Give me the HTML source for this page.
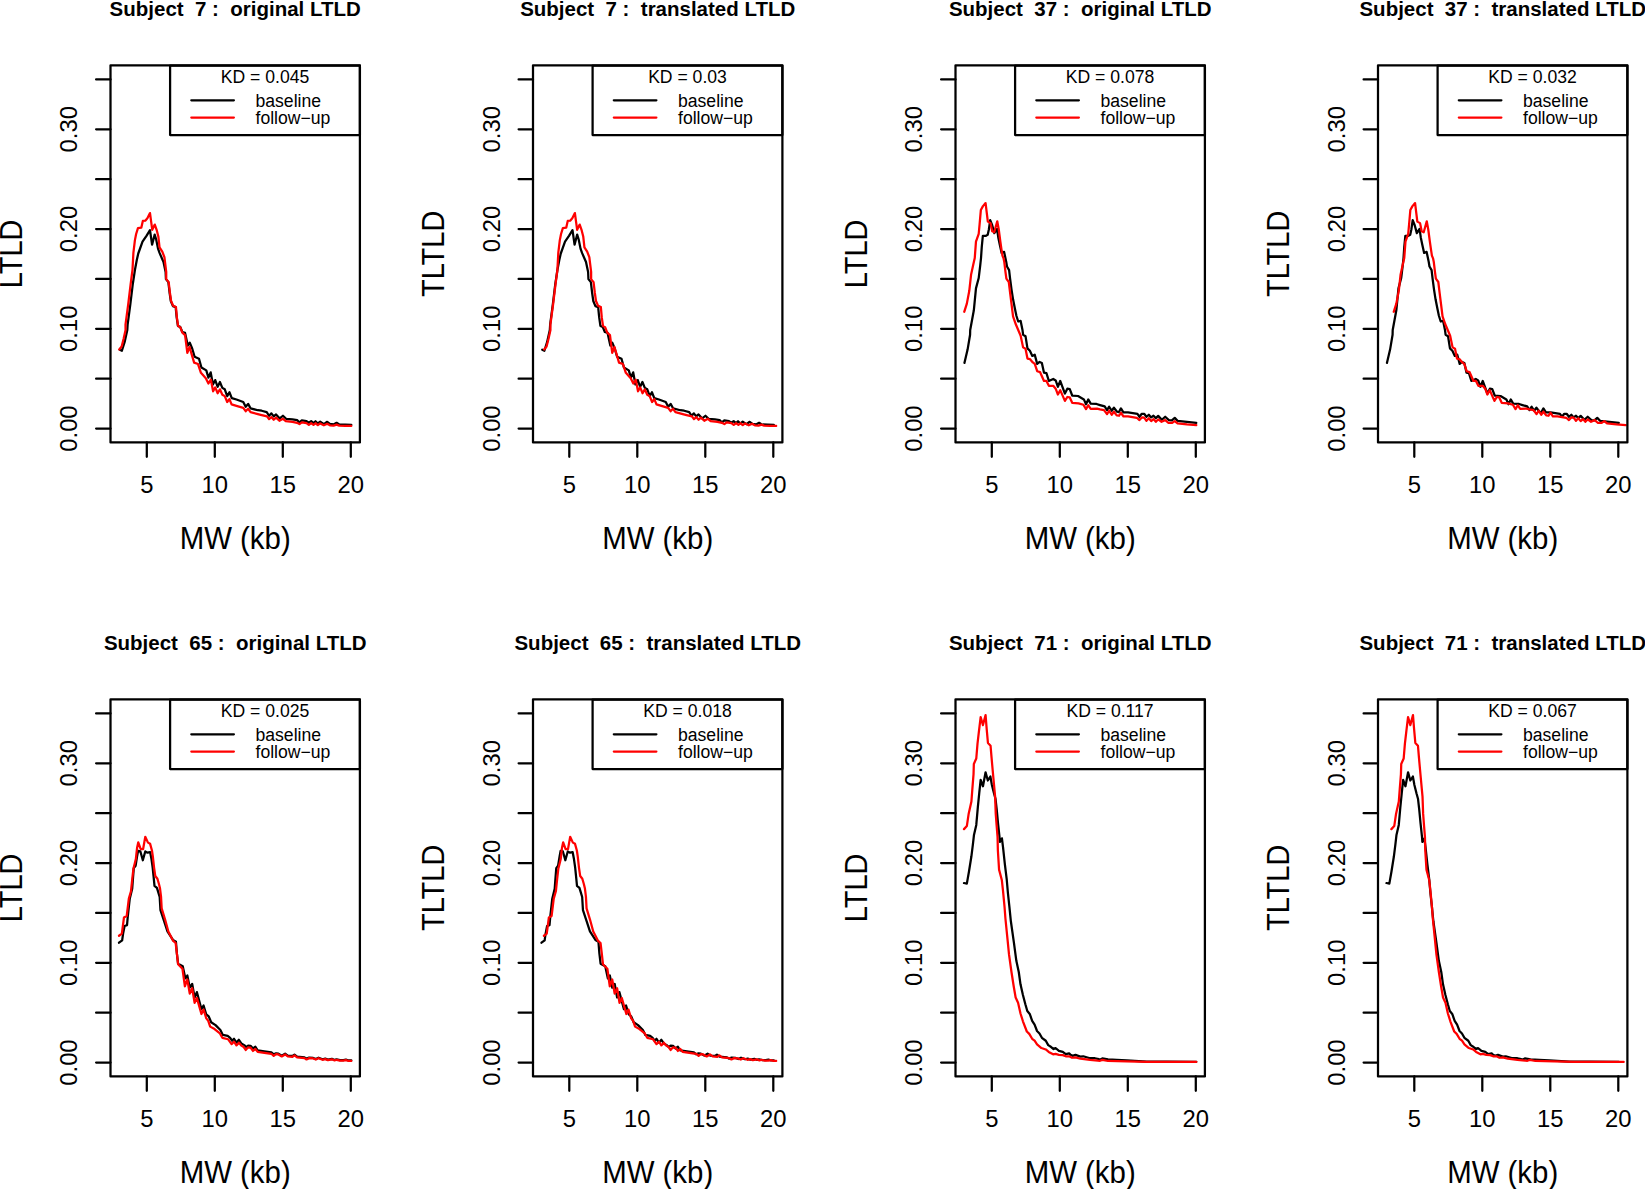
<!DOCTYPE html>
<html><head><meta charset="utf-8"><title>LTLD</title>
<style>html,body{margin:0;padding:0;background:#fff;width:1645px;height:1189px;overflow:hidden}svg{display:block}text{font-family:"Liberation Sans",sans-serif;fill:#000}.t{font-weight:bold;font-size:20.5px}.a{font-size:23.8px}.l{font-size:29.4px}.y{font-size:29px}.g{font-size:17.6px}.k{stroke:#000;stroke-width:2.25;fill:none;stroke-linecap:round;stroke-linejoin:round}.r{stroke:#f00;stroke-width:2.25;fill:none;stroke-linecap:round;stroke-linejoin:round}</style></head><body>
<svg width="1645" height="1189" viewBox="0 0 1645 1189">
<rect width="1645" height="1189" fill="#fff"/>
<g transform="translate(0,0)">
<path class="k" d="M119.73 349.74 L121.87 350.72 L124.59 342.16 L127.31 330 L127.63 324.71 L130.36 304.04 L132.8 283.98 L134.92 270 L136.75 260.18 L138.27 253.5 L142.52 241.64 L146.47 235.87 L150 230.09 L152.07 244.68 L154.68 234.65 L156.2 239.51 L158.02 248.63 L159.54 252.89 L163.5 262.01 L165.62 271.98 L165.93 279.12 L168.36 282.16 L169.57 292.49 L170.79 301 L172.92 306.17 L175.65 307.08 L176.69 317.42 L177.9 325.93 L180.21 326.84 L182.34 332.01 L185.08 332.92 L187.81 345.56 L189.76 342.64 L192.19 348.48 L194.62 356.75 L199 358.69 L201.43 367.45 L206.29 370.36 L208.43 377.66 L210.67 372.31 L212.91 384.47 L215.24 380.09 L217.67 386.9 L219.91 382.04 L222.34 387.87 L224.77 389.33 L227.2 396.14 L229.44 392.25 L231.78 398.09 L236.44 399.54 L243.25 401.98 L245.68 406.84 L248.12 403.92 L250.55 408.3 L257.84 410.24 L261.69 410.74 L266.7 412.08 L269.04 415.76 L271.38 413.42 L273.72 416.43 L276.06 414.42 L279.74 418.43 L282.95 415.76 L286.09 418.77 L292.45 419.44 L297.13 420.11 L299.47 422.45 L301.81 420.44 L306.49 421.11 L308.83 422.78 L311.17 421.11 L313.51 423.12 L315.52 421.24 L317.86 423.45 L320.2 421.64 L323.88 424.12 L327.22 421.78 L329.89 423.78 L333.57 424.45 L336.58 422.78 L339.26 424.45 L345.27 424.59 L351.29 424.92"/>
<path class="r" d="M119.24 349.45 L121.67 346.53 L123.62 338.75 L125.56 330 L125.5 324.71 L128.24 304.04 L130.67 283.98 L132.49 270 L133.4 252.89 L134.92 240.12 L136.14 234.04 L137.96 228.09 L141.31 227.66 L142.83 220.97 L145.26 220.67 L147.39 218.24 L150 213.07 L152.25 229.79 L154.8 224.62 L156.81 230.4 L158.33 236.47 L159.54 247.42 L162.28 251.67 L164.41 257.14 L166.23 271.98 L166.23 279.12 L168.66 282.16 L169.88 292.49 L171.09 301 L173.22 305.87 L175.96 307.08 L176.87 317.42 L178.09 325.93 L180.21 327.14 L182.34 332.61 L185.08 335.05 L187.33 352.86 L189.56 347.02 L191.7 354.32 L194.13 362.58 L198.02 364.04 L200.94 372.8 L205.81 378.15 L208.43 383.5 L210.86 379.6 L213.1 391.28 L215.24 387.39 L217.67 393.22 L219.91 389.33 L222.34 394.68 L224.77 396.14 L227.2 401.98 L229.44 399.06 L231.58 404.41 L236.44 405.87 L243.25 407.81 L245.68 411.22 L248.12 408.78 L250.55 412.19 L257.84 414.13 L261.69 415.09 L267.04 416.43 L269.04 419.1 L271.38 417.1 L273.72 419.77 L276.06 417.63 L279.41 420.78 L282.95 418.77 L285.76 421.11 L292.45 421.78 L297.13 422.78 L299.47 424.12 L301.81 422.45 L306.49 423.12 L308.83 424.92 L311.17 423.12 L313.51 424.92 L315.52 423.25 L317.86 425.12 L320.2 423.45 L323.88 425.32 L327.22 423.78 L329.89 425.26 L333.57 425.66 L336.58 424.59 L339.26 425.66 L345.27 425.79 L351.29 425.92"/>
<rect class="k" x="110.5" y="65.25" width="249.4" height="377.2"/>
<path class="k" d="M146.8 442.45v14.4M214.8 442.45v14.4M282.8 442.45v14.4M350.8 442.45v14.4M110.5 428.55h-14.4M110.5 378.67h-14.4M110.5 328.79h-14.4M110.5 278.91h-14.4M110.5 229.03h-14.4M110.5 179.15h-14.4M110.5 129.27h-14.4M110.5 79.39h-14.4"/>
<text class="a" text-anchor="middle" x="146.8" y="493.15">5</text>
<text class="a" text-anchor="middle" x="214.8" y="493.15">10</text>
<text class="a" text-anchor="middle" x="282.8" y="493.15">15</text>
<text class="a" text-anchor="middle" x="350.8" y="493.15">20</text>
<text class="a" text-anchor="middle" transform="translate(77.1,428.55) rotate(-90)">0.00</text>
<text class="a" text-anchor="middle" transform="translate(77.1,328.79) rotate(-90)">0.10</text>
<text class="a" text-anchor="middle" transform="translate(77.1,229.03) rotate(-90)">0.20</text>
<text class="a" text-anchor="middle" transform="translate(77.1,129.27) rotate(-90)">0.30</text>
<text class="l" text-anchor="middle" transform="translate(235.2,548.65) scale(1,1.05)">MW (kb)</text>
<text class="y" text-anchor="middle" transform="translate(21.6,253.85) rotate(-90) scale(1,1.08)">LTLD</text>
<text class="t" text-anchor="middle" transform="translate(235.2,15.85) scale(1,1.03)" xml:space="preserve">Subject  7 :  original LTLD</text>
<rect class="k" x="170.1" y="65.55" width="189.8" height="69.5" fill="#fff"/>
<text class="g" text-anchor="middle" x="265" y="83.05">KD = 0.045</text>
<path class="k" d="M191.3 100.3h42.6"/>
<path class="r" d="M191.3 117.5h42.6"/>
<text class="g" x="255.5" y="106.65">baseline</text>
<text class="g" x="255.5" y="124.05">follow−up</text>
</g>
<g transform="translate(422.5,0)">
<path class="k" d="M119.73 349.74 L121.87 350.72 L124.59 342.16 L127.31 330 L127.63 324.71 L130.36 304.04 L132.8 283.98 L134.92 270 L136.75 260.18 L138.27 253.5 L142.52 241.64 L146.47 235.87 L150 230.09 L152.07 244.68 L154.68 234.65 L156.2 239.51 L158.02 248.63 L159.54 252.89 L163.5 262.01 L165.62 271.98 L165.93 279.12 L168.36 282.16 L169.57 292.49 L170.79 301 L172.92 306.17 L175.65 307.08 L176.69 317.42 L177.9 325.93 L180.21 326.84 L182.34 332.01 L185.08 332.92 L187.81 345.56 L189.76 342.64 L192.19 348.48 L194.62 356.75 L199 358.69 L201.43 367.45 L206.29 370.36 L208.43 377.66 L210.67 372.31 L212.91 384.47 L215.24 380.09 L217.67 386.9 L219.91 382.04 L222.34 387.87 L224.77 389.33 L227.2 396.14 L229.44 392.25 L231.78 398.09 L236.44 399.54 L243.25 401.98 L245.68 406.84 L248.12 403.92 L250.55 408.3 L257.84 410.24 L261.69 410.74 L266.7 412.08 L269.04 415.76 L271.38 413.42 L273.72 416.43 L276.06 414.42 L279.74 418.43 L282.95 415.76 L286.09 418.77 L292.45 419.44 L297.13 420.11 L299.47 422.45 L301.81 420.44 L306.49 421.11 L308.83 422.78 L311.17 421.11 L313.51 423.12 L315.52 421.24 L317.86 423.45 L320.2 421.64 L323.88 424.12 L327.22 421.78 L329.89 423.78 L333.57 424.45 L336.58 422.78 L339.26 424.45 L345.27 424.59 L351.29 424.92"/>
<path class="r" d="M121.64 349.45 L124.07 346.53 L126.02 338.75 L127.96 330 L127.9 324.71 L130.64 304.04 L133.07 283.98 L134.89 270 L135.8 252.89 L137.32 240.12 L138.54 234.04 L140.36 228.09 L143.71 227.66 L145.23 220.97 L147.66 220.67 L149.79 218.24 L152.4 213.07 L154.65 229.79 L157.2 224.62 L159.21 230.4 L160.73 236.47 L161.94 247.42 L164.68 251.67 L166.81 257.14 L168.63 271.98 L168.63 279.12 L171.06 282.16 L172.28 292.49 L173.49 301 L175.62 305.87 L178.36 307.08 L179.27 317.42 L180.49 325.93 L182.61 327.14 L184.74 332.61 L187.48 335.05 L189.73 352.86 L191.96 347.02 L194.1 354.32 L196.53 362.58 L200.42 364.04 L203.34 372.8 L208.21 378.15 L210.83 383.5 L213.26 379.6 L215.5 391.28 L217.64 387.39 L220.07 393.22 L222.31 389.33 L224.74 394.68 L227.17 396.14 L229.6 401.98 L231.84 399.06 L233.98 404.41 L238.84 405.87 L245.65 407.81 L248.08 411.22 L250.52 408.78 L252.95 412.19 L260.24 414.13 L264.09 415.09 L269.44 416.43 L271.44 419.1 L273.78 417.1 L276.12 419.77 L278.46 417.63 L281.81 420.78 L285.35 418.77 L288.16 421.11 L294.85 421.78 L299.53 422.78 L301.87 424.12 L304.21 422.45 L308.89 423.12 L311.23 424.92 L313.57 423.12 L315.91 424.92 L317.92 423.25 L320.26 425.12 L322.6 423.45 L326.28 425.32 L329.62 423.78 L332.29 425.26 L335.97 425.66 L338.98 424.59 L341.66 425.66 L347.67 425.79 L353.69 425.92"/>
<rect class="k" x="110.5" y="65.25" width="249.4" height="377.2"/>
<path class="k" d="M146.8 442.45v14.4M214.8 442.45v14.4M282.8 442.45v14.4M350.8 442.45v14.4M110.5 428.55h-14.4M110.5 378.67h-14.4M110.5 328.79h-14.4M110.5 278.91h-14.4M110.5 229.03h-14.4M110.5 179.15h-14.4M110.5 129.27h-14.4M110.5 79.39h-14.4"/>
<text class="a" text-anchor="middle" x="146.8" y="493.15">5</text>
<text class="a" text-anchor="middle" x="214.8" y="493.15">10</text>
<text class="a" text-anchor="middle" x="282.8" y="493.15">15</text>
<text class="a" text-anchor="middle" x="350.8" y="493.15">20</text>
<text class="a" text-anchor="middle" transform="translate(77.1,428.55) rotate(-90)">0.00</text>
<text class="a" text-anchor="middle" transform="translate(77.1,328.79) rotate(-90)">0.10</text>
<text class="a" text-anchor="middle" transform="translate(77.1,229.03) rotate(-90)">0.20</text>
<text class="a" text-anchor="middle" transform="translate(77.1,129.27) rotate(-90)">0.30</text>
<text class="l" text-anchor="middle" transform="translate(235.2,548.65) scale(1,1.05)">MW (kb)</text>
<text class="y" text-anchor="middle" transform="translate(21.6,253.85) rotate(-90) scale(1,1.08)">TLTLD</text>
<text class="t" text-anchor="middle" transform="translate(235.2,15.85) scale(1,1.03)" xml:space="preserve">Subject  7 :  translated LTLD</text>
<rect class="k" x="170.1" y="65.55" width="189.8" height="69.5" fill="#fff"/>
<text class="g" text-anchor="middle" x="265" y="83.05">KD = 0.03</text>
<path class="k" d="M191.3 100.3h42.6"/>
<path class="r" d="M191.3 117.5h42.6"/>
<text class="g" x="255.5" y="106.65">baseline</text>
<text class="g" x="255.5" y="124.05">follow−up</text>
</g>
<g transform="translate(845,0)">
<path class="k" d="M119.43 362.93 L122.64 349.32 L125.08 334.73 L125.2 329.98 L128.84 310.28 L130.97 288.4 L133.71 278.06 L135.23 265.29 L136.02 258 L136.75 247.14 L137.84 235.9 L140.58 235.9 L142.71 234.86 L143.86 229.51 L145.2 220.09 L147.2 225.26 L149.33 233.16 L152.07 228.91 L153.28 237.42 L154.8 244.71 L156.63 252.92 L159.12 251.88 L161.25 261.98 L161.98 266.51 L164.1 270.16 L165.02 278.06 L166.53 289.61 L168.05 299.34 L169.88 308.46 L171.4 315.75 L173.22 321.53 L175.65 320.92 L177.48 329.98 L178.09 334.73 L180.52 336.19 L182.46 348.34 L184.89 350.78 L187.33 355.93 L189.76 354.67 L192.19 363.91 L194.62 361.96 L196.86 362.93 L199 372.66 L201.43 373.15 L203.86 380.93 L208.24 378.98 L210.67 380.44 L212.91 386.76 L215.24 380.93 L219.91 393.57 L222.34 388.71 L224.77 389.19 L227.2 395.52 L233.04 396 L238.88 399.41 L241.02 404.27 L243.25 399.41 L245.68 403.59 L251.52 403.98 L255 405.06 L259.68 406.4 L262.02 410.08 L264.16 406.73 L266.7 410.74 L268.91 407.74 L272.05 411.75 L273.92 412.08 L275.93 408.4 L278.4 412.42 L283.09 412.42 L292.45 413.89 L294.45 416.76 L296.79 413.75 L299.13 413.75 L301.47 416.76 L303.81 414.76 L306.16 417.43 L308.5 415.76 L310.84 418.1 L313.18 415.89 L316.85 419.77 L320.2 416.76 L323.88 420.11 L326.88 420.44 L329.76 417.9 L332.57 420.78 L341.93 421.91 L351.29 422.98"/>
<path class="r" d="M119.24 311.8 L121.85 303.59 L124.29 290.83 L126.11 274.41 L128.24 264.69 L129.76 258 L130.97 241.67 L133.71 233.77 L134.62 224.04 L135.84 210.06 L137.96 206.11 L140.58 203.07 L142.83 221.61 L145.56 223.13 L147.2 231.34 L149.21 232.25 L152.25 221.31 L153.77 229.51 L155.29 241.06 L156.5 249.57 L157.42 255.65 L158.63 258.69 L159.24 261.65 L160.46 271.98 L161.37 278.67 L163.8 282.01 L165.02 292.04 L166.53 304.2 L168.05 316.36 L170.79 324.26 L173.22 329.98 L175.65 335.7 L178.09 347.37 L180.52 348.83 L182.46 358.56 L184.89 359.04 L187.81 362.45 L189.76 363.91 L192.19 371.2 L195.11 372.17 L199 380.93 L201.43 380.93 L203.86 385.79 L208.24 385.79 L210.67 388.71 L212.91 394.54 L215.24 390.17 L219.91 400.87 L222.34 396.98 L224.77 397.46 L227.2 402.81 L233.53 403.3 L238.39 404.76 L241.02 409.13 L243.25 405.24 L245.68 408.84 L252.01 408.65 L255 409.41 L259.01 410.08 L262.02 414.09 L264.16 410.74 L266.7 414.76 L268.91 411.75 L271.72 415.43 L274.06 415.76 L275.93 412.75 L278.4 416.43 L283.09 416.29 L291.78 417.77 L294.45 420.11 L296.79 417.43 L299.13 417.63 L301.47 420.78 L303.81 418.3 L306.16 421.11 L308.5 419.1 L310.84 421.78 L313.18 419.44 L316.52 421.78 L320.2 420.11 L323.21 422.78 L326.88 422.98 L329.76 421.11 L332.57 423.45 L341.93 424.45 L351.29 425.12"/>
<rect class="k" x="110.5" y="65.25" width="249.4" height="377.2"/>
<path class="k" d="M146.8 442.45v14.4M214.8 442.45v14.4M282.8 442.45v14.4M350.8 442.45v14.4M110.5 428.55h-14.4M110.5 378.67h-14.4M110.5 328.79h-14.4M110.5 278.91h-14.4M110.5 229.03h-14.4M110.5 179.15h-14.4M110.5 129.27h-14.4M110.5 79.39h-14.4"/>
<text class="a" text-anchor="middle" x="146.8" y="493.15">5</text>
<text class="a" text-anchor="middle" x="214.8" y="493.15">10</text>
<text class="a" text-anchor="middle" x="282.8" y="493.15">15</text>
<text class="a" text-anchor="middle" x="350.8" y="493.15">20</text>
<text class="a" text-anchor="middle" transform="translate(77.1,428.55) rotate(-90)">0.00</text>
<text class="a" text-anchor="middle" transform="translate(77.1,328.79) rotate(-90)">0.10</text>
<text class="a" text-anchor="middle" transform="translate(77.1,229.03) rotate(-90)">0.20</text>
<text class="a" text-anchor="middle" transform="translate(77.1,129.27) rotate(-90)">0.30</text>
<text class="l" text-anchor="middle" transform="translate(235.2,548.65) scale(1,1.05)">MW (kb)</text>
<text class="y" text-anchor="middle" transform="translate(21.6,253.85) rotate(-90) scale(1,1.08)">LTLD</text>
<text class="t" text-anchor="middle" transform="translate(235.2,15.85) scale(1,1.03)" xml:space="preserve">Subject  37 :  original LTLD</text>
<rect class="k" x="170.1" y="65.55" width="189.8" height="69.5" fill="#fff"/>
<text class="g" text-anchor="middle" x="265" y="83.05">KD = 0.078</text>
<path class="k" d="M191.3 100.3h42.6"/>
<path class="r" d="M191.3 117.5h42.6"/>
<text class="g" x="255.5" y="106.65">baseline</text>
<text class="g" x="255.5" y="124.05">follow−up</text>
</g>
<g transform="translate(1267.5,0)">
<path class="k" d="M119.43 362.93 L122.64 349.32 L125.08 334.73 L125.2 329.98 L128.84 310.28 L130.97 288.4 L133.71 278.06 L135.23 265.29 L136.02 258 L136.75 247.14 L137.84 235.9 L140.58 235.9 L142.71 234.86 L143.86 229.51 L145.2 220.09 L147.2 225.26 L149.33 233.16 L152.07 228.91 L153.28 237.42 L154.8 244.71 L156.63 252.92 L159.12 251.88 L161.25 261.98 L161.98 266.51 L164.1 270.16 L165.02 278.06 L166.53 289.61 L168.05 299.34 L169.88 308.46 L171.4 315.75 L173.22 321.53 L175.65 320.92 L177.48 329.98 L178.09 334.73 L180.52 336.19 L182.46 348.34 L184.89 350.78 L187.33 355.93 L189.76 354.67 L192.19 363.91 L194.62 361.96 L196.86 362.93 L199 372.66 L201.43 373.15 L203.86 380.93 L208.24 378.98 L210.67 380.44 L212.91 386.76 L215.24 380.93 L219.91 393.57 L222.34 388.71 L224.77 389.19 L227.2 395.52 L233.04 396 L238.88 399.41 L241.02 404.27 L243.25 399.41 L245.68 403.59 L251.52 403.98 L255 405.06 L259.68 406.4 L262.02 410.08 L264.16 406.73 L266.7 410.74 L268.91 407.74 L272.05 411.75 L273.92 412.08 L275.93 408.4 L278.4 412.42 L283.09 412.42 L292.45 413.89 L294.45 416.76 L296.79 413.75 L299.13 413.75 L301.47 416.76 L303.81 414.76 L306.16 417.43 L308.5 415.76 L310.84 418.1 L313.18 415.89 L316.85 419.77 L320.2 416.76 L323.88 420.11 L326.88 420.44 L329.76 417.9 L332.57 420.78 L341.93 421.91 L351.29 422.98"/>
<path class="r" d="M126.24 311.8 L128.85 303.59 L131.29 290.83 L133.11 274.41 L135.24 264.69 L136.76 258 L137.97 241.67 L140.71 233.77 L141.62 224.04 L142.84 210.06 L144.96 206.11 L147.58 203.07 L149.83 221.61 L152.56 223.13 L154.2 231.34 L156.21 232.25 L159.25 221.31 L160.77 229.51 L162.29 241.06 L163.5 249.57 L164.42 255.65 L165.63 258.69 L166.24 261.65 L167.46 271.98 L168.37 278.67 L170.8 282.01 L172.02 292.04 L173.53 304.2 L175.05 316.36 L177.79 324.26 L180.22 329.98 L182.65 335.7 L185.09 347.37 L187.52 348.83 L189.46 358.56 L191.89 359.04 L194.81 362.45 L196.76 363.91 L199.19 371.2 L202.11 372.17 L206 380.93 L208.43 380.93 L210.86 385.79 L215.24 385.79 L217.67 388.71 L219.91 394.54 L222.24 390.17 L226.91 400.87 L229.34 396.98 L231.77 397.46 L234.2 402.81 L240.53 403.3 L245.39 404.76 L248.02 409.13 L250.25 405.24 L252.68 408.84 L259.01 408.65 L262 409.41 L266.01 410.08 L269.02 414.09 L271.16 410.74 L273.7 414.76 L275.91 411.75 L278.72 415.43 L281.06 415.76 L282.93 412.75 L285.4 416.43 L290.09 416.29 L298.78 417.77 L301.45 420.11 L303.79 417.43 L306.13 417.63 L308.47 420.78 L310.81 418.3 L313.16 421.11 L315.5 419.1 L317.84 421.78 L320.18 419.44 L323.52 421.78 L327.2 420.11 L330.21 422.78 L333.88 422.98 L336.76 421.11 L339.57 423.45 L348.93 424.45 L358.29 425.12"/>
<rect class="k" x="110.5" y="65.25" width="249.4" height="377.2"/>
<path class="k" d="M146.8 442.45v14.4M214.8 442.45v14.4M282.8 442.45v14.4M350.8 442.45v14.4M110.5 428.55h-14.4M110.5 378.67h-14.4M110.5 328.79h-14.4M110.5 278.91h-14.4M110.5 229.03h-14.4M110.5 179.15h-14.4M110.5 129.27h-14.4M110.5 79.39h-14.4"/>
<text class="a" text-anchor="middle" x="146.8" y="493.15">5</text>
<text class="a" text-anchor="middle" x="214.8" y="493.15">10</text>
<text class="a" text-anchor="middle" x="282.8" y="493.15">15</text>
<text class="a" text-anchor="middle" x="350.8" y="493.15">20</text>
<text class="a" text-anchor="middle" transform="translate(77.1,428.55) rotate(-90)">0.00</text>
<text class="a" text-anchor="middle" transform="translate(77.1,328.79) rotate(-90)">0.10</text>
<text class="a" text-anchor="middle" transform="translate(77.1,229.03) rotate(-90)">0.20</text>
<text class="a" text-anchor="middle" transform="translate(77.1,129.27) rotate(-90)">0.30</text>
<text class="l" text-anchor="middle" transform="translate(235.2,548.65) scale(1,1.05)">MW (kb)</text>
<text class="y" text-anchor="middle" transform="translate(21.6,253.85) rotate(-90) scale(1,1.08)">TLTLD</text>
<text class="t" text-anchor="middle" transform="translate(235.2,15.85) scale(1,1.03)" xml:space="preserve">Subject  37 :  translated LTLD</text>
<rect class="k" x="170.1" y="65.55" width="189.8" height="69.5" fill="#fff"/>
<text class="g" text-anchor="middle" x="265" y="83.05">KD = 0.032</text>
<path class="k" d="M191.3 100.3h42.6"/>
<path class="r" d="M191.3 117.5h42.6"/>
<text class="g" x="255.5" y="106.65">baseline</text>
<text class="g" x="255.5" y="124.05">follow−up</text>
</g>
<g transform="translate(0,634)">
<path class="k" d="M119 308.72 L122.16 306.29 L123.07 299.91 L124.59 292 L127.02 291.09 L127.75 282.88 L129.76 264.65 L132.19 254.83 L133.1 242.67 L133.77 234.16 L135.59 231.73 L137.05 222.61 L138.09 216.84 L140.4 217.44 L142.83 226.26 L145.26 217.44 L147.51 218.66 L150.12 218.05 L151.46 225.04 L152.67 233.55 L153.59 242.67 L154.5 251.79 L156.93 253.92 L158.15 257.87 L159.67 262.98 L160.46 276.2 L164.1 287.14 L167.45 297.47 L172.92 305.98 L175.96 307.81 L176.87 319.36 L178.09 329.69 L182.75 332.32 L185.38 344.48 L187.33 341.56 L189.76 353.72 L192.19 349.83 L194.62 363.45 L196.86 358.1 L201.43 375.12 L203.57 371.52 L206.29 380.47 L208.72 382.41 L211.16 388.25 L215.53 391.17 L220.4 396.03 L222.83 400.89 L227.69 401.87 L230.12 403.81 L232.07 406.73 L234.01 404.78 L236.44 408.67 L238.88 405.76 L241.31 409.45 L244.22 411.11 L246.17 413.05 L248.12 411.59 L250.55 411.79 L252.98 414.51 L255.41 412.76 L257.67 416.29 L264.36 417.3 L271.38 418.3 L273.72 420.31 L276.06 419.3 L278.4 419.64 L281.75 421.64 L285.09 419.64 L287.77 421.64 L292.45 421.98 L294.45 420.64 L297.13 422.65 L304.48 423.32 L306.49 424.65 L309.16 423.58 L313.18 423.92 L315.85 425.05 L318.53 423.72 L322.54 425.26 L325.21 424.59 L327.89 425.59 L331.9 424.79 L334.57 425.92 L336.58 425.26 L339.92 426.06 L343.27 426.06 L345.94 425.59 L348.62 426.46 L351.29 426.46"/>
<path class="r" d="M119 301.73 L121.85 299.6 L123.98 283.49 L126.72 281.97 L128.84 264.65 L130.97 257.26 L132.19 245.71 L133.4 234.77 L134.62 229.91 L135.84 225.04 L137.05 214.1 L138.27 208.33 L140.7 215.01 L143.13 215.01 L145.26 202.85 L147.99 208.63 L150.12 209.84 L151.95 216.53 L152.86 222.61 L154.07 233.55 L155.29 242.06 L157.42 244.8 L158.94 249.97 L159.97 254.22 L161.06 262.98 L161.67 274.37 L165.02 285.32 L168.36 297.47 L173.22 306.9 L175.65 309.02 L176.87 319.36 L178.09 330.3 L182.46 334.75 L184.89 352.26 L187.33 345.45 L189.76 359.56 L192.19 354.21 L194.62 368.8 L196.86 363.93 L201.43 379.98 L203.57 375.6 L206.29 384.36 L208.24 386.79 L210.18 392.63 L214.56 395.06 L219.91 399.43 L222.34 403.81 L228.18 405.27 L231.58 410.13 L234.01 407.7 L236.44 411.4 L238.88 408.67 L241.31 411.59 L243.74 413.05 L245.68 415.97 L248.12 413.34 L250.55 413.54 L252.98 416.94 L255.41 415 L257.67 417.77 L264.36 418.77 L271.38 419.77 L273.72 421.78 L276.06 420.11 L278.4 420.44 L281.75 422.45 L285.09 420.44 L287.77 422.45 L292.45 422.78 L294.45 421.44 L297.13 423.45 L304.48 424.12 L306.49 425.46 L309.16 424.12 L313.18 424.45 L315.85 425.59 L318.53 424.25 L322.54 425.79 L325.21 425.12 L327.89 426.12 L331.9 425.32 L334.57 426.46 L336.58 425.79 L339.92 426.59 L343.27 426.59 L345.94 426.12 L348.62 426.99 L351.29 426.99"/>
<rect class="k" x="110.5" y="65.25" width="249.4" height="377.2"/>
<path class="k" d="M146.8 442.45v14.4M214.8 442.45v14.4M282.8 442.45v14.4M350.8 442.45v14.4M110.5 428.55h-14.4M110.5 378.67h-14.4M110.5 328.79h-14.4M110.5 278.91h-14.4M110.5 229.03h-14.4M110.5 179.15h-14.4M110.5 129.27h-14.4M110.5 79.39h-14.4"/>
<text class="a" text-anchor="middle" x="146.8" y="493.15">5</text>
<text class="a" text-anchor="middle" x="214.8" y="493.15">10</text>
<text class="a" text-anchor="middle" x="282.8" y="493.15">15</text>
<text class="a" text-anchor="middle" x="350.8" y="493.15">20</text>
<text class="a" text-anchor="middle" transform="translate(77.1,428.55) rotate(-90)">0.00</text>
<text class="a" text-anchor="middle" transform="translate(77.1,328.79) rotate(-90)">0.10</text>
<text class="a" text-anchor="middle" transform="translate(77.1,229.03) rotate(-90)">0.20</text>
<text class="a" text-anchor="middle" transform="translate(77.1,129.27) rotate(-90)">0.30</text>
<text class="l" text-anchor="middle" transform="translate(235.2,548.65) scale(1,1.05)">MW (kb)</text>
<text class="y" text-anchor="middle" transform="translate(21.6,253.85) rotate(-90) scale(1,1.08)">LTLD</text>
<text class="t" text-anchor="middle" transform="translate(235.2,15.85) scale(1,1.03)" xml:space="preserve">Subject  65 :  original LTLD</text>
<rect class="k" x="170.1" y="65.55" width="189.8" height="69.5" fill="#fff"/>
<text class="g" text-anchor="middle" x="265" y="83.05">KD = 0.025</text>
<path class="k" d="M191.3 100.3h42.6"/>
<path class="r" d="M191.3 117.5h42.6"/>
<text class="g" x="255.5" y="106.65">baseline</text>
<text class="g" x="255.5" y="124.05">follow−up</text>
</g>
<g transform="translate(422.5,634)">
<path class="k" d="M119 308.72 L122.16 306.29 L123.07 299.91 L124.59 292 L127.02 291.09 L127.75 282.88 L129.76 264.65 L132.19 254.83 L133.1 242.67 L133.77 234.16 L135.59 231.73 L137.05 222.61 L138.09 216.84 L140.4 217.44 L142.83 226.26 L145.26 217.44 L147.51 218.66 L150.12 218.05 L151.46 225.04 L152.67 233.55 L153.59 242.67 L154.5 251.79 L156.93 253.92 L158.15 257.87 L159.67 262.98 L160.46 276.2 L164.1 287.14 L167.45 297.47 L172.92 305.98 L175.96 307.81 L176.87 319.36 L178.09 329.69 L182.75 332.32 L185.38 344.48 L187.33 341.56 L189.76 353.72 L192.19 349.83 L194.62 363.45 L196.86 358.1 L201.43 375.12 L203.57 371.52 L206.29 380.47 L208.72 382.41 L211.16 388.25 L215.53 391.17 L220.4 396.03 L222.83 400.89 L227.69 401.87 L230.12 403.81 L232.07 406.73 L234.01 404.78 L236.44 408.67 L238.88 405.76 L241.31 409.45 L244.22 411.11 L246.17 413.05 L248.12 411.59 L250.55 411.79 L252.98 414.51 L255.41 412.76 L257.67 416.29 L264.36 417.3 L271.38 418.3 L273.72 420.31 L276.06 419.3 L278.4 419.64 L281.75 421.64 L285.09 419.64 L287.77 421.64 L292.45 421.98 L294.45 420.64 L297.13 422.65 L304.48 423.32 L306.49 424.65 L309.16 423.58 L313.18 423.92 L315.85 425.05 L318.53 423.72 L322.54 425.26 L325.21 424.59 L327.89 425.59 L331.9 424.79 L334.57 425.92 L336.58 425.26 L339.92 426.06 L343.27 426.06 L345.94 425.59 L348.62 426.46 L351.29 426.46"/>
<path class="r" d="M121.4 301.73 L124.25 299.6 L126.38 283.49 L129.12 281.97 L131.24 264.65 L133.37 257.26 L134.59 245.71 L135.8 234.77 L137.02 229.91 L138.24 225.04 L139.45 214.1 L140.67 208.33 L143.1 215.01 L145.53 215.01 L147.66 202.85 L150.39 208.63 L152.52 209.84 L154.35 216.53 L155.26 222.61 L156.47 233.55 L157.69 242.06 L159.82 244.8 L161.34 249.97 L162.37 254.22 L163.46 262.98 L164.07 274.37 L167.42 285.32 L170.76 297.47 L175.62 306.9 L178.05 309.02 L179.27 319.36 L180.49 330.3 L184.86 334.75 L187.29 352.26 L189.73 345.45 L192.16 359.56 L194.59 354.21 L197.02 368.8 L199.26 363.93 L203.83 379.98 L205.97 375.6 L208.69 384.36 L210.64 386.79 L212.58 392.63 L216.96 395.06 L222.31 399.43 L224.74 403.81 L230.58 405.27 L233.98 410.13 L236.41 407.7 L238.84 411.4 L241.28 408.67 L243.71 411.59 L246.14 413.05 L248.08 415.97 L250.52 413.34 L252.95 413.54 L255.38 416.94 L257.81 415 L260.07 417.77 L266.76 418.77 L273.78 419.77 L276.12 421.78 L278.46 420.11 L280.8 420.44 L284.15 422.45 L287.49 420.44 L290.17 422.45 L294.85 422.78 L296.85 421.44 L299.53 423.45 L306.88 424.12 L308.89 425.46 L311.56 424.12 L315.58 424.45 L318.25 425.59 L320.93 424.25 L324.94 425.79 L327.61 425.12 L330.29 426.12 L334.3 425.32 L336.97 426.46 L338.98 425.79 L342.32 426.59 L345.67 426.59 L348.34 426.12 L351.02 426.99 L353.69 426.99"/>
<rect class="k" x="110.5" y="65.25" width="249.4" height="377.2"/>
<path class="k" d="M146.8 442.45v14.4M214.8 442.45v14.4M282.8 442.45v14.4M350.8 442.45v14.4M110.5 428.55h-14.4M110.5 378.67h-14.4M110.5 328.79h-14.4M110.5 278.91h-14.4M110.5 229.03h-14.4M110.5 179.15h-14.4M110.5 129.27h-14.4M110.5 79.39h-14.4"/>
<text class="a" text-anchor="middle" x="146.8" y="493.15">5</text>
<text class="a" text-anchor="middle" x="214.8" y="493.15">10</text>
<text class="a" text-anchor="middle" x="282.8" y="493.15">15</text>
<text class="a" text-anchor="middle" x="350.8" y="493.15">20</text>
<text class="a" text-anchor="middle" transform="translate(77.1,428.55) rotate(-90)">0.00</text>
<text class="a" text-anchor="middle" transform="translate(77.1,328.79) rotate(-90)">0.10</text>
<text class="a" text-anchor="middle" transform="translate(77.1,229.03) rotate(-90)">0.20</text>
<text class="a" text-anchor="middle" transform="translate(77.1,129.27) rotate(-90)">0.30</text>
<text class="l" text-anchor="middle" transform="translate(235.2,548.65) scale(1,1.05)">MW (kb)</text>
<text class="y" text-anchor="middle" transform="translate(21.6,253.85) rotate(-90) scale(1,1.08)">TLTLD</text>
<text class="t" text-anchor="middle" transform="translate(235.2,15.85) scale(1,1.03)" xml:space="preserve">Subject  65 :  translated LTLD</text>
<rect class="k" x="170.1" y="65.55" width="189.8" height="69.5" fill="#fff"/>
<text class="g" text-anchor="middle" x="265" y="83.05">KD = 0.018</text>
<path class="k" d="M191.3 100.3h42.6"/>
<path class="r" d="M191.3 117.5h42.6"/>
<text class="g" x="255.5" y="106.65">baseline</text>
<text class="g" x="255.5" y="124.05">follow−up</text>
</g>
<g transform="translate(845,634)">
<path class="k" d="M119 249.02 L121.85 249.63 L123.98 237.47 L126.41 222.28 L127.93 210.12 L128.97 201 L131.28 190.88 L132.8 173.55 L134.32 158.36 L135.65 145.89 L137.96 152.28 L140.58 138.29 L142.83 146.5 L145.38 142.55 L146.9 151.06 L149.03 159.57 L150.55 165.04 L151.76 175.98 L152.98 188.75 L154.5 202.98 L154.86 207.99 L156.93 204.34 L158.02 213.16 L159.85 230.18 L161.67 244.77 L162.89 258.75 L164.41 272.98 L165.87 287.28 L168.91 308.55 L171.34 326.79 L173.77 337.98 L175.5 350.32 L177.93 361.02 L180.36 370.26 L182.31 377.06 L184.74 379.98 L187.17 386.79 L189.6 390.68 L192.04 397 L194.47 399.43 L196.9 403.81 L200.79 406.73 L203.22 411.11 L206.14 413.05 L208.57 415 L210.52 414.02 L213.92 416.94 L217.81 417.91 L220.73 420.15 L224.13 419.37 L225.59 420.83 L227.54 421.81 L230.46 420.83 L235.32 422.58 L238.24 422.29 L245.05 424.24 L249.91 424.24 L253.8 425.21 L255 425.79 L257.34 424.45 L263.02 425.46 L271.72 425.92 L281.75 426.46 L301.81 427.53 L321.87 427.66 L351.29 427.8"/>
<path class="r" d="M119 195.13 L121.85 192.09 L123.68 179.63 L126.41 167.47 L127.33 155.32 L128.54 140.12 L128.84 129.97 L131.28 124.5 L132.49 109.91 L134.01 96.53 L135.65 83.16 L137.96 91.06 L140.58 81.03 L141.61 94.1 L142.95 108.99 L145.56 111.73 L146.47 122.67 L147.39 133.01 L148.3 142.98 L150.12 162.61 L150.73 179.63 L151.64 191.79 L152.55 202.98 L152.86 216.2 L154.07 235.65 L156.81 245.98 L158.02 256.93 L159.54 272.98 L160.4 284.24 L162.22 302.47 L164.04 320.71 L166.47 337.98 L168.69 352.26 L170.64 363.45 L173.07 368.8 L175.5 379.5 L177.93 387.28 L181.82 397.49 L184.26 399.92 L187.17 404.78 L189.6 406.73 L192.04 410.43 L196.41 414.02 L200.79 415.48 L203.71 417.91 L208.09 420.35 L210.52 419.86 L213.92 420.83 L217.81 421.12 L220.73 422.29 L224.13 422.29 L227.05 423.75 L230.46 423.46 L235.32 424.72 L245.05 425.99 L252.83 426.67 L255 426.79 L257.34 425.92 L263.02 426.99 L281.75 427.46 L301.81 427.93 L321.87 427.93 L351.29 427.93"/>
<rect class="k" x="110.5" y="65.25" width="249.4" height="377.2"/>
<path class="k" d="M146.8 442.45v14.4M214.8 442.45v14.4M282.8 442.45v14.4M350.8 442.45v14.4M110.5 428.55h-14.4M110.5 378.67h-14.4M110.5 328.79h-14.4M110.5 278.91h-14.4M110.5 229.03h-14.4M110.5 179.15h-14.4M110.5 129.27h-14.4M110.5 79.39h-14.4"/>
<text class="a" text-anchor="middle" x="146.8" y="493.15">5</text>
<text class="a" text-anchor="middle" x="214.8" y="493.15">10</text>
<text class="a" text-anchor="middle" x="282.8" y="493.15">15</text>
<text class="a" text-anchor="middle" x="350.8" y="493.15">20</text>
<text class="a" text-anchor="middle" transform="translate(77.1,428.55) rotate(-90)">0.00</text>
<text class="a" text-anchor="middle" transform="translate(77.1,328.79) rotate(-90)">0.10</text>
<text class="a" text-anchor="middle" transform="translate(77.1,229.03) rotate(-90)">0.20</text>
<text class="a" text-anchor="middle" transform="translate(77.1,129.27) rotate(-90)">0.30</text>
<text class="l" text-anchor="middle" transform="translate(235.2,548.65) scale(1,1.05)">MW (kb)</text>
<text class="y" text-anchor="middle" transform="translate(21.6,253.85) rotate(-90) scale(1,1.08)">LTLD</text>
<text class="t" text-anchor="middle" transform="translate(235.2,15.85) scale(1,1.03)" xml:space="preserve">Subject  71 :  original LTLD</text>
<rect class="k" x="170.1" y="65.55" width="189.8" height="69.5" fill="#fff"/>
<text class="g" text-anchor="middle" x="265" y="83.05">KD = 0.117</text>
<path class="k" d="M191.3 100.3h42.6"/>
<path class="r" d="M191.3 117.5h42.6"/>
<text class="g" x="255.5" y="106.65">baseline</text>
<text class="g" x="255.5" y="124.05">follow−up</text>
</g>
<g transform="translate(1267.5,634)">
<path class="k" d="M119 249.02 L121.85 249.63 L123.98 237.47 L126.41 222.28 L127.93 210.12 L128.97 201 L131.28 190.88 L132.8 173.55 L134.32 158.36 L135.65 145.89 L137.96 152.28 L140.58 138.29 L142.83 146.5 L145.38 142.55 L146.9 151.06 L149.03 159.57 L150.55 165.04 L151.76 175.98 L152.98 188.75 L154.5 202.98 L154.86 207.99 L156.93 204.34 L158.02 213.16 L159.85 230.18 L161.67 244.77 L162.89 258.75 L164.41 272.98 L165.87 287.28 L168.91 308.55 L171.34 326.79 L173.77 337.98 L175.5 350.32 L177.93 361.02 L180.36 370.26 L182.31 377.06 L184.74 379.98 L187.17 386.79 L189.6 390.68 L192.04 397 L194.47 399.43 L196.9 403.81 L200.79 406.73 L203.22 411.11 L206.14 413.05 L208.57 415 L210.52 414.02 L213.92 416.94 L217.81 417.91 L220.73 420.15 L224.13 419.37 L225.59 420.83 L227.54 421.81 L230.46 420.83 L235.32 422.58 L238.24 422.29 L245.05 424.24 L249.91 424.24 L253.8 425.21 L255 425.79 L257.34 424.45 L263.02 425.46 L271.72 425.92 L281.75 426.46 L301.81 427.53 L321.87 427.66 L351.29 427.8"/>
<path class="r" d="M123.9 195.13 L126.75 192.09 L128.58 179.63 L131.31 167.47 L132.23 155.32 L133.44 140.12 L133.74 129.97 L136.18 124.5 L137.39 109.91 L138.91 96.53 L140.55 83.16 L142.86 91.06 L145.48 81.03 L146.51 94.1 L147.85 108.99 L150.46 111.73 L151.37 122.67 L152.29 133.01 L153.2 142.98 L155.02 162.61 L155.63 179.63 L156.54 191.79 L157.45 202.98 L157.76 216.2 L158.97 235.65 L161.71 245.98 L162.92 256.93 L164.44 272.98 L165.3 284.24 L167.12 302.47 L168.94 320.71 L171.37 337.98 L173.59 352.26 L175.54 363.45 L177.97 368.8 L180.4 379.5 L182.83 387.28 L186.72 397.49 L189.16 399.92 L192.07 404.78 L194.5 406.73 L196.94 410.43 L201.31 414.02 L205.69 415.48 L208.61 417.91 L212.99 420.35 L215.42 419.86 L218.82 420.83 L222.71 421.12 L225.63 422.29 L229.03 422.29 L231.95 423.75 L235.36 423.46 L240.22 424.72 L249.95 425.99 L257.73 426.67 L259.9 426.79 L262.24 425.92 L267.92 426.99 L286.65 427.46 L306.71 427.93 L326.77 427.93 L356.19 427.93"/>
<rect class="k" x="110.5" y="65.25" width="249.4" height="377.2"/>
<path class="k" d="M146.8 442.45v14.4M214.8 442.45v14.4M282.8 442.45v14.4M350.8 442.45v14.4M110.5 428.55h-14.4M110.5 378.67h-14.4M110.5 328.79h-14.4M110.5 278.91h-14.4M110.5 229.03h-14.4M110.5 179.15h-14.4M110.5 129.27h-14.4M110.5 79.39h-14.4"/>
<text class="a" text-anchor="middle" x="146.8" y="493.15">5</text>
<text class="a" text-anchor="middle" x="214.8" y="493.15">10</text>
<text class="a" text-anchor="middle" x="282.8" y="493.15">15</text>
<text class="a" text-anchor="middle" x="350.8" y="493.15">20</text>
<text class="a" text-anchor="middle" transform="translate(77.1,428.55) rotate(-90)">0.00</text>
<text class="a" text-anchor="middle" transform="translate(77.1,328.79) rotate(-90)">0.10</text>
<text class="a" text-anchor="middle" transform="translate(77.1,229.03) rotate(-90)">0.20</text>
<text class="a" text-anchor="middle" transform="translate(77.1,129.27) rotate(-90)">0.30</text>
<text class="l" text-anchor="middle" transform="translate(235.2,548.65) scale(1,1.05)">MW (kb)</text>
<text class="y" text-anchor="middle" transform="translate(21.6,253.85) rotate(-90) scale(1,1.08)">TLTLD</text>
<text class="t" text-anchor="middle" transform="translate(235.2,15.85) scale(1,1.03)" xml:space="preserve">Subject  71 :  translated LTLD</text>
<rect class="k" x="170.1" y="65.55" width="189.8" height="69.5" fill="#fff"/>
<text class="g" text-anchor="middle" x="265" y="83.05">KD = 0.067</text>
<path class="k" d="M191.3 100.3h42.6"/>
<path class="r" d="M191.3 117.5h42.6"/>
<text class="g" x="255.5" y="106.65">baseline</text>
<text class="g" x="255.5" y="124.05">follow−up</text>
</g>
</svg>
</body></html>
